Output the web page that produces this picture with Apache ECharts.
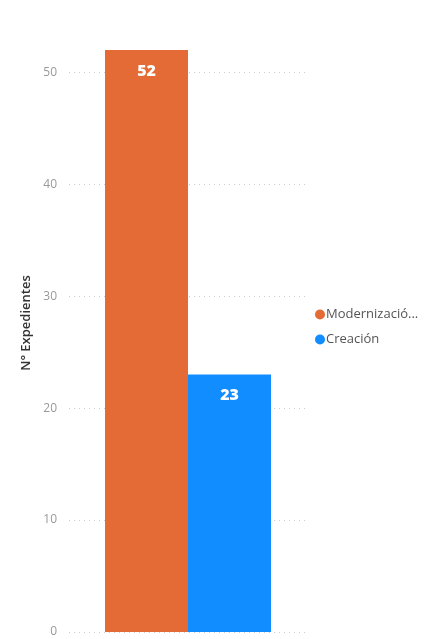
<!DOCTYPE html>
<html><head><meta charset="utf-8">
<script src="https://cdn.jsdelivr.net/npm/echarts@6/dist/echarts.min.js"></script>
<style>html,body{margin:0;padding:0;background:#fff}#c{width:433px;height:639px}</style>
</head><body><div id="c"></div>
<script>
const categories = [''];
const seriesNames = ['Modernización', 'Creación'];
const modernizacion = [52];
const creacion = [23];
const yTicks = [0, 10, 20, 30, 40, 50];
const colors = ['#E46B35', '#118DFF'];

const chart = echarts.init(document.getElementById('c'));
const font = '"Open Sans", "Noto Sans", sans-serif';
chart.setOption({
  animation: false,
  color: colors,
  grid: { left: 69, right: 126, top: 50, bottom: 7, containLabel: false },
  legend: {
    orient: 'vertical', left: 310, top: 303, itemGap: 12,
    icon: 'circle', itemWidth: 10, itemHeight: 10,
    formatter: n => n.length > 12 ? n.slice(0, 12) + '...' : n,
    textStyle: { color: '#555', fontSize: 13, fontFamily: font, padding: [0, 0, 0, -4] },
    data: seriesNames
  },
  xAxis: {
    type: 'category', data: categories,
    axisLine: { show: false }, axisTick: { show: false }, axisLabel: { show: false }
  },
  yAxis: {
    type: 'value', min: 0, max: 52, interval: 10,
    name: 'N° Expedientes', nameLocation: 'middle', nameGap: 36, nameRotate: 90,
    nameTextStyle: { color: '#333', fontSize: 13, fontFamily: font, fontWeight: 600, padding: [0, 0, 0, 36] },
    axisLine: { show: false }, axisTick: { show: false },
    axisLabel: { color: '#999', fontSize: 12, fontFamily: font, margin: 12, showMaxLabel: false,
      formatter: v => yTicks.includes(v) ? String(v) : '' },
    splitLine: { show: true, showMaxLine: false, lineStyle: { color: '#ccc', type: [1, 4], width: 1 } }
  },
  series: [
    { name: seriesNames[0], type: 'bar', data: modernizacion, barWidth: 83, barGap: '0%',
      label: { show: true, position: 'insideTop', distance: 13, color: '#fff', fontWeight: 800, fontSize: 16, fontFamily: font } },
    { name: seriesNames[1], type: 'bar', data: creacion, barWidth: 83, barGap: '0%',
      label: { show: true, position: 'insideTop', distance: 13, color: '#fff', fontWeight: 800, fontSize: 16, fontFamily: font } }
  ]
});
</script></body></html>
